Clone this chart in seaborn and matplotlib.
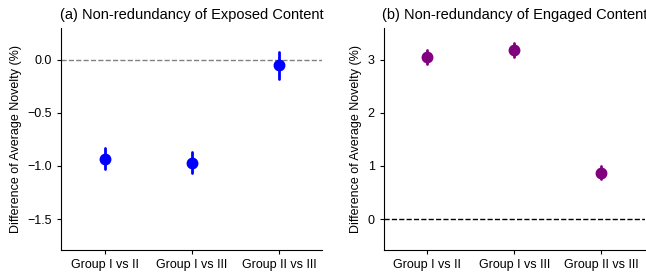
import numpy as np
import pandas as pd
import matplotlib
matplotlib.use('Agg')
import matplotlib.pyplot as plt
import seaborn as sns

sns.set_style('ticks')
plt.rcParams['font.family'] = ['Liberation Sans', 'DejaVu Sans']
plt.rcParams['text.color'] = 'black'
plt.rcParams['axes.labelcolor'] = 'black'
plt.rcParams['xtick.color'] = 'black'
plt.rcParams['ytick.color'] = 'black'

# comparisons between groups
comparisons = ['Group I vs II', 'Group I vs III', 'Group II vs III']

# (a) exposed content: estimate and 95% CI bounds
exposed_mean = [-0.93, -0.97, -0.05]
exposed_low = [-1.03, -1.07, -0.18]
exposed_high = [-0.83, -0.87, 0.07]

# (b) engaged content
engaged_mean = [3.05, 3.18, 0.87]
engaged_low = [2.92, 3.05, 0.75]
engaged_high = [3.18, 3.31, 1.00]


def make_frame(low, mean, high):
    # three rows per comparison -> median = estimate, full range = CI
    rows = []
    for c, lo, m, hi in zip(comparisons, low, mean, high):
        rows += [(c, lo), (c, m), (c, hi)]
    return pd.DataFrame(rows, columns=['comparison', 'value'])


fig = plt.figure(figsize=(6.46, 2.78), dpi=100)
ax1 = fig.add_axes([0.095, 0.101, 0.404, 0.799])
ax2 = fig.add_axes([0.594, 0.101, 0.404, 0.799])

panels = [
    (ax1, make_frame(exposed_low, exposed_mean, exposed_high), 'blue',
     '(a) Non-redundancy of Exposed Content', (-1.79, 0.30), [-1.5, -1.0, -0.5, 0.0], 'gray'),
    (ax2, make_frame(engaged_low, engaged_mean, engaged_high), 'purple',
     '(b) Non-redundancy of Engaged Content', (-0.58, 3.60), [0, 1, 2, 3], 'black'),
]

for ax, df, col, title, ylim, yticks, lcol in panels:
    ax.axhline(0, color=lcol, linestyle='--', linewidth=1.0, zorder=0)
    sns.pointplot(data=df, x='comparison', y='value', order=comparisons,
                  estimator=np.median, errorbar=('pi', 100), color=col,
                  linestyle='none', markersize=6.5, err_kws={'linewidth': 2},
                  ax=ax)
    ax.set_xlim(-0.5, 2.5)
    ax.set_ylim(*ylim)
    ax.set_yticks(yticks)
    if ax is ax1:
        ax.set_yticklabels(['\u22121.5', '\u22121.0', '\u22120.5', '0.0'])
    ax.set_xlabel('')
    ax.set_ylabel('Difference of Average Novelty (%)', fontsize=9)
    ax.set_title(title, fontsize=10.5)
    ax.tick_params(labelsize=9, length=3, width=0.8)
    for s in ['left', 'bottom']:
        ax.spines[s].set_color('black')
        ax.spines[s].set_linewidth(0.8)
    sns.despine(ax=ax)

fig.savefig('out.png', dpi=100)
